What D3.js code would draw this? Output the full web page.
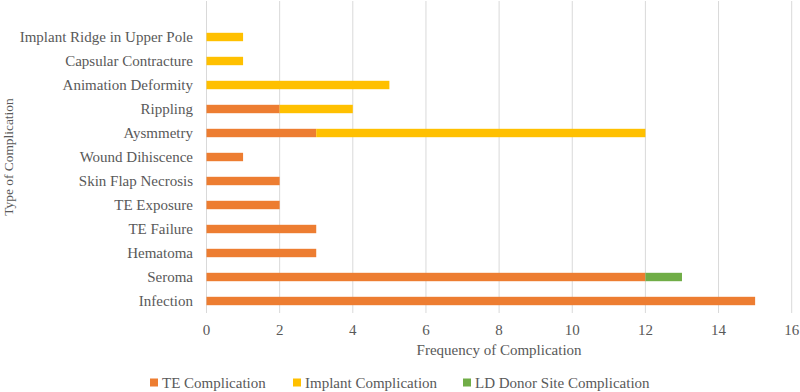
<!DOCTYPE html>
<html lang="en">
<head>
    <meta charset="utf-8">
    <title>Type of Complication</title>
    <script src="https://d3js.org/d3.v7.min.js"></script>
    <style>
        body { margin: 0; background: #fff; }
        svg text { font-family: "Liberation Serif", "Times New Roman", serif; fill: #595959; font-size: 15px; }
    </style>
</head>
<body>
    <svg id="chart" width="800" height="392"></svg>
    <script>
        // categories, top to bottom
        const categories = [
            "Implant Ridge in Upper Pole", "Capsular Contracture", "Animation Deformity",
            "Rippling", "Aysmmetry", "Wound Dihiscence", "Skin Flap Necrosis",
            "TE Exposure", "TE Failure", "Hematoma", "Seroma", "Infection"
        ];
        const teComplication      = [0, 0, 0, 2, 3, 1, 2, 2, 3, 3, 12, 15];
        const implantComplication = [1, 1, 5, 2, 9, 0, 0, 0, 0, 0, 0, 0];
        const ldDonorComplication = [0, 0, 0, 0, 0, 0, 0, 0, 0, 0, 1, 0];
        const seriesNames = ["TE Complication", "Implant Complication", "LD Donor Site Complication"];
        const seriesColors = ["#ED7D31", "#FFC000", "#70AD47"];
        const xTicks = [0, 2, 4, 6, 8, 10, 12, 14, 16];

        const svg = d3.select("#chart");
        const plotLeft = 206.5, plotRight = 791.7, plotTop = 1, plotBottom = 313;

        const x = d3.scaleLinear().domain([0, 16]).range([plotLeft, plotRight]);
        // first band sits one band below the top of the plot area
        const bandH = (plotBottom - plotTop) / (categories.length + 1);
        const y = d3.scaleBand().domain(categories)
            .range([plotTop + bandH, plotBottom]).paddingInner(0.65).paddingOuter(0.325);

        // gridlines
        svg.append("g").selectAll("line")
            .data(xTicks)
            .enter().append("line")
            .attr("x1", d => x(d)).attr("x2", d => x(d))
            .attr("y1", plotTop).attr("y2", plotBottom)
            .style("stroke", "#d9d9d9").style("stroke-width", "1px");

        // stacked data
        const rows = categories.map((c, i) => ({
            cat: c, s0: teComplication[i], s1: implantComplication[i], s2: ldDonorComplication[i]
        }));
        const stack = d3.stack().keys(["s0", "s1", "s2"])(rows);

        svg.append("g").selectAll("g")
            .data(stack)
            .enter().append("g")
            .attr("fill", (d, i) => seriesColors[i])
            .selectAll("rect")
            .data(d => d.filter(p => p[1] > p[0]))
            .enter().append("rect")
            .attr("x", d => x(d[0]))
            .attr("width", d => x(d[1]) - x(d[0]))
            .attr("y", d => y(d.data.cat))
            .attr("height", y.bandwidth());

        // category labels
        svg.append("g").selectAll("text")
            .data(categories)
            .enter().append("text")
            .attr("x", 193)
            .attr("y", d => y(d) + y.bandwidth() / 2)
            .attr("dy", "0.35em")
            .style("text-anchor", "end")
            .text(d => d);

        // x tick labels
        svg.append("g").selectAll("text")
            .data(xTicks)
            .enter().append("text")
            .attr("x", d => x(d))
            .attr("y", 330)
            .attr("dy", "0.35em")
            .style("text-anchor", "middle")
            .text(d => d);

        // axis titles
        svg.append("text")
            .attr("x", (plotLeft + plotRight) / 2)
            .attr("y", 350)
            .attr("dy", "0.35em")
            .style("text-anchor", "middle")
            .text("Frequency of Complication");

        svg.append("text")
            .attr("transform", "translate(8, 157) rotate(-90)")
            .attr("dy", "0.35em")
            .style("text-anchor", "middle")
            .style("font-size", "13.4px")
            .text("Type of Complication");

        // legend
        const legendX = [150, 293, 463];
        const legend = svg.append("g").selectAll("g")
            .data(seriesNames)
            .enter().append("g")
            .attr("transform", (d, i) => `translate(${legendX[i]}, 382.5)`);

        legend.append("rect")
            .attr("x", 0).attr("y", -4)
            .attr("width", 8).attr("height", 8)
            .attr("fill", (d, i) => seriesColors[i]);

        legend.append("text")
            .attr("x", 12)
            .attr("dy", "0.35em")
            .text(d => d);
    </script>
</body>
</html>
